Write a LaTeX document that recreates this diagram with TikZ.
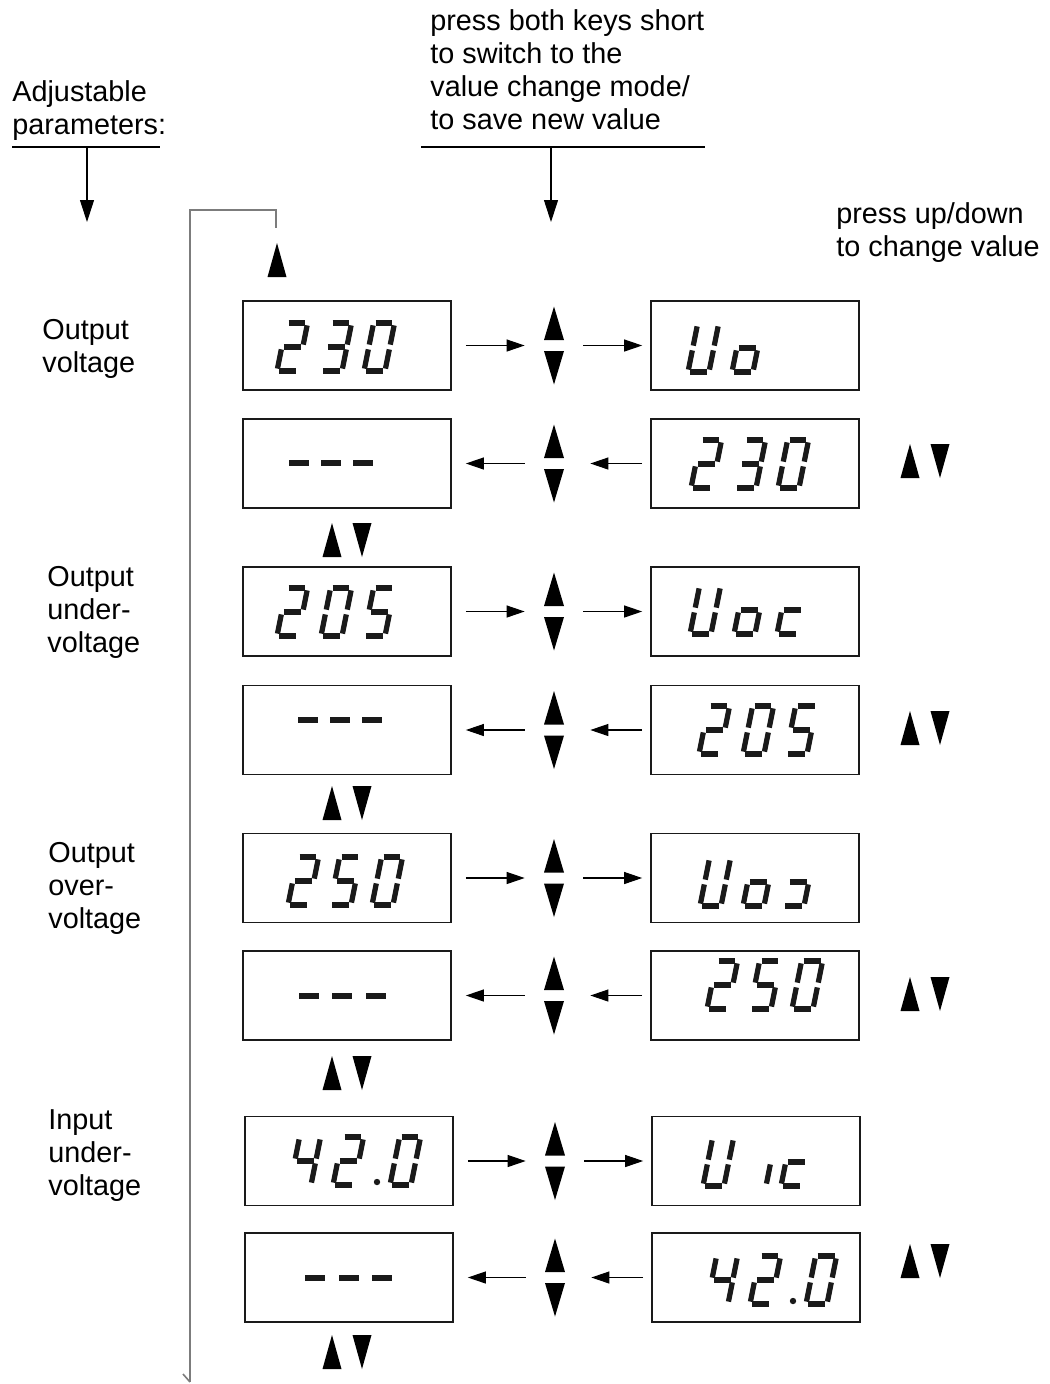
\documentclass[tikz,border=0pt]{standalone}
\usepackage{fontspec}
\setmainfont{Liberation Sans}
\usetikzlibrary{arrows.meta,calc,positioning}
\definecolor{PanelBlack}{HTML}{1A1A1A}
\definecolor{ReturnGrey}{HTML}{7C7C7C}
\newcommand{\sega}{\draw[lcdseg] (0.1,1) -- (0.9,1);}
\newcommand{\segb}{\draw[lcdseg] (1,0.95) -- (1,0.55);}
\newcommand{\segc}{\draw[lcdseg] (1,0.45) -- (1,0.05);}
\newcommand{\segd}{\draw[lcdseg] (0.1,0) -- (0.9,0);}
\newcommand{\sege}{\draw[lcdseg] (0,0.45) -- (0,0.05);}
\newcommand{\segf}{\draw[lcdseg] (0,0.95) -- (0,0.55);}
\newcommand{\segg}{\draw[lcdseg] (0.1,0.5) -- (0.9,0.5);}
\newcommand{\gZero}{a,b,c,d,e,f}
\newcommand{\gTwo}{a,b,g,e,d}
\newcommand{\gThree}{a,b,g,c,d}
\newcommand{\gFour}{f,g,b,c}
\newcommand{\gFive}{a,f,g,c,d}
\newcommand{\gU}{b,c,d,e,f}
\newcommand{\gLo}{g,c,d,e}
\newcommand{\gLc}{g,e,d}
\newcommand{\gRc}{g,c,d}
\newcommand{\gLi}{c}
\newcommand{\lcd}[3]{%
  \begin{scope}[shift={(#1,#2)},x=0.42cm,y=0.96cm,xslant=0.2]
    \foreach \s in #3 {\csname seg\s\endcsname}
  \end{scope}}
\newcommand{\lcddash}[2]{\draw[lcdseg] (#1-10,#2) -- (#1+10,#2);}
\newcommand{\lcddot}[2]{\fill[PanelBlack] (#1,#2) circle (3.2);}
\newcommand{\keypair}[3]{%
  \node[keys] (#1) at (#2,#3) {};
  \fill (#2,#3-39) -- (#2+10,#3-5.5) -- (#2-10,#3-5.5) -- cycle;
  \fill (#2,#3+39) -- (#2+10,#3+5.5) -- (#2-10,#3+5.5) -- cycle;}
\newcommand{\updn}[2]{%
  \fill (#1-15,#2-17) -- (#1-5.5,#2+17) -- (#1-24.5,#2+17) -- cycle;
  \fill (#1+15,#2+17) -- (#1+24.5,#2-17) -- (#1+5.5,#2-17) -- cycle;}

\begin{document}
\begin{tikzpicture}[x=0.02cm, y=-0.02cm,
  lbl/.style={anchor=north west, inner sep=0, align=left, font=\fontsize{16.4}{18.8}\selectfont},
  lcdbox/.style={draw=PanelBlack, line width=1pt, minimum width=4.16cm, minimum height=1.78cm, inner sep=0},
  lcdseg/.style={line width=3pt, PanelBlack},
  keys/.style={minimum width=0.4cm, minimum height=1.56cm, inner sep=0},
  flow/.style={-{Triangle[length=0.36cm,width=0.24cm]}, line width=0.6pt},
  drop/.style={-{Triangle[length=0.44cm,width=0.28cm]}, line width=0.6pt},
  rule/.style={line width=0.6pt},
  back/.style={ReturnGrey, line width=0.9pt}]
\useasboundingbox (0,0) rectangle (1050,1384);

\node[lbl] (adj) at (12,80) {Adjustable\\parameters:};
\node[lbl] (both) at (430,9) {press both keys short\\to switch to the\\value change mode/\\to save new value};
\node[lbl] (updown) at (836,202) {press up/down\\to change value};
\node[lbl] (p1) at (42,319) {Output\\voltage};
\node[lbl] (p2) at (47,566) {Output\\under-\\voltage};
\node[lbl] (p3) at (48,842) {Output\\over-\\voltage};
\node[lbl] (p4) at (48,1109) {Input\\under-\\voltage};

\draw[rule] (12,147) -- (160,147);
\draw[rule] (421,147) -- (705,147);
\coordinate (adjfoot) at (87,148);
\coordinate (adjtip) at (87,222);
\coordinate (bothfoot) at (551,148);
\coordinate (bothtip) at (551,222);
\draw[drop] (adjfoot) -- (adjtip);
\draw[drop] (bothfoot) -- (bothtip);

\coordinate (retstart) at (190,1382);
\coordinate (retend) at (276,228);
\draw[back] (retstart) |- (276,210) -- (retend);
\draw[back] (retstart) -- (183,1374);
\fill (277,243) -- (286.5,277) -- (267.5,277) -- cycle;

\node[lcdbox] (l1) at (347,345.5) {};
\node[lcdbox] (l2) at (347,463.5) {};
\node[lcdbox] (l3) at (347,611.5) {};
\node[lcdbox] (l4) at (347,730) {};
\node[lcdbox] (l5) at (347,878) {};
\node[lcdbox] (l6) at (347,995.5) {};
\node[lcdbox] (l7) at (349,1161) {};
\node[lcdbox] (l8) at (349,1277.5) {};
\node[lcdbox] (r1) at (755,345.5) {};
\node[lcdbox] (r2) at (755,463.5) {};
\node[lcdbox] (r3) at (755,611.5) {};
\node[lcdbox] (r4) at (755,730) {};
\node[lcdbox] (r5) at (755,878) {};
\node[lcdbox] (r6) at (755,995.5) {};
\node[lcdbox] (r7) at (756,1161) {};
\node[lcdbox] (r8) at (756,1277.5) {};

\keypair{k1}{554}{345.5}
\keypair{k2}{554}{463.5}
\keypair{k3}{554}{611.5}
\keypair{k4}{554}{730}
\keypair{k5}{554}{878}
\keypair{k6}{554}{995.5}
\keypair{k7}{555}{1161}
\keypair{k8}{555}{1277.5}

\draw[flow, shorten <=0.28cm, shorten >=0.38cm] (l1) -- (k1);
\draw[flow, shorten <=0.38cm, shorten >=0.16cm] (k1) -- (r1);
\draw[flow, shorten <=0.16cm, shorten >=0.52cm] (r2) -- (k2);
\draw[flow, shorten <=0.38cm, shorten >=0.28cm] (k2) -- (l2);
\draw[flow, shorten <=0.28cm, shorten >=0.38cm] (l3) -- (k3);
\draw[flow, shorten <=0.38cm, shorten >=0.16cm] (k3) -- (r3);
\draw[flow, shorten <=0.16cm, shorten >=0.52cm] (r4) -- (k4);
\draw[flow, shorten <=0.38cm, shorten >=0.28cm] (k4) -- (l4);
\draw[flow, shorten <=0.28cm, shorten >=0.38cm] (l5) -- (k5);
\draw[flow, shorten <=0.38cm, shorten >=0.16cm] (k5) -- (r5);
\draw[flow, shorten <=0.16cm, shorten >=0.52cm] (r6) -- (k6);
\draw[flow, shorten <=0.38cm, shorten >=0.28cm] (k6) -- (l6);
\draw[flow, shorten <=0.28cm, shorten >=0.38cm] (l7) -- (k7);
\draw[flow, shorten <=0.38cm, shorten >=0.16cm] (k7) -- (r7);
\draw[flow, shorten <=0.16cm, shorten >=0.52cm] (r8) -- (k8);
\draw[flow, shorten <=0.38cm, shorten >=0.28cm] (k8) -- (l8);

\updn{925}{461}
\updn{925}{728}
\updn{925}{994}
\updn{925}{1261}
\updn{347}{540}
\updn{347}{803}
\updn{347}{1073}
\updn{347}{1352}

\lcd{277}{371}{\gTwo}
\lcd{321}{371}{\gThree}
\lcd{364}{371}{\gZero}
\lcd{688}{372}{\gU}
\lcd{732}{372}{\gLo}
\lcddash{299}{463}
\lcddash{331}{463}
\lcddash{363}{463}
\lcd{691}{488}{\gTwo}
\lcd{735}{488}{\gThree}
\lcd{778}{488}{\gZero}
\lcd{277}{636}{\gTwo}
\lcd{321}{636}{\gZero}
\lcd{364}{636}{\gFive}
\lcd{690}{634}{\gU}
\lcd{734}{634}{\gLo}
\lcd{777}{634}{\gLc}
\lcddash{308}{720}
\lcddash{340}{720}
\lcddash{372}{720}
\lcd{699}{754}{\gTwo}
\lcd{743}{754}{\gZero}
\lcd{786}{754}{\gFive}
\lcd{288}{905}{\gTwo}
\lcd{330}{905}{\gFive}
\lcd{372}{905}{\gZero}
\lcd{700}{906}{\gU}
\lcd{743}{906}{\gLo}
\lcd{783}{906}{\gRc}
\lcddash{309}{996}
\lcddash{342}{996}
\lcddash{376}{996}
\lcd{707}{1009}{\gTwo}
\lcd{750}{1009}{\gFive}
\lcd{792}{1009}{\gZero}
\lcd{290}{1185}{\gFour}
\lcd{333}{1185}{\gTwo}
\lcddot{377}{1182}
\lcd{390}{1185}{\gZero}
\lcd{703}{1186}{\gU}
\lcd{745}{1186}{\gLi}
\lcd{781}{1186}{\gLc}
\lcddash{315}{1278}
\lcddash{349}{1278}
\lcddash{382}{1278}
\lcd{707}{1304}{\gFour}
\lcd{750}{1304}{\gTwo}
\lcddot{793}{1301}
\lcd{806}{1304}{\gZero}
\end{tikzpicture}
\end{document}
